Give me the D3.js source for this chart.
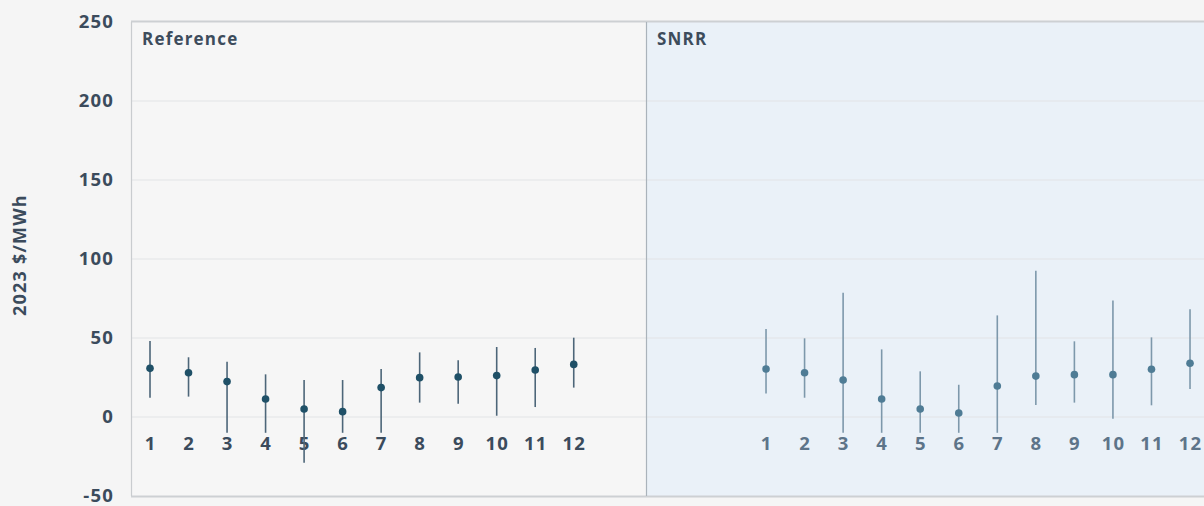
<!DOCTYPE html>
<html>
<head>
<meta charset="utf-8">
<script src="https://cdn.jsdelivr.net/npm/d3@7/dist/d3.min.js"></script>
<style>
  html, body { margin: 0; padding: 0; background: #f5f5f5; }
  svg { display: block; font-family: "Open Sans", "Noto Sans", sans-serif; }
</style>
</head>
<body>
<svg id="chart" width="1204" height="506"></svg>
<script>
// Monthly price ranges (2023 $/MWh): central value with low/high whiskers
const months = [1, 2, 3, 4, 5, 6, 7, 8, 9, 10, 11, 12];
const yTicks = [-50, 0, 50, 100, 150, 200, 250];

const referenceMid  = [30.8, 28.0, 22.4, 11.4, 5.1, 3.4, 18.6, 24.9, 25.3, 26.2, 29.7, 33.3];
const referenceLow  = [12.2, 12.9, -10, -10, -29, -10, -10, 9.1, 8.4, 0.8, 6.3, 18.6];
const referenceHigh = [48.1, 37.8, 35.0, 27.0, 23.4, 23.4, 30.4, 40.9, 35.9, 44.3, 43.7, 50.2];

const snrrMid  = [30.4, 28.0, 23.4, 11.4, 5.1, 2.5, 19.6, 25.9, 26.8, 26.8, 30.2, 34.0];
const snrrLow  = [14.8, 12.2, -10, -10, -10, -10, -10, 7.6, 9.1, -1.1, 7.4, 17.7];
const snrrHigh = [55.7, 49.8, 78.7, 42.8, 28.9, 20.4, 64.3, 92.6, 47.9, 73.8, 50.4, 68.2];

(function draw() {
  const svg = d3.select("#chart");
  const textColor = "#3b4b5c";
  const spacing = 1.2;

  const plotTop = 22, plotBottom = 496;
  const y = d3.scaleLinear().domain([-50, 250]).range([plotBottom, plotTop]);

  const panels = [
    { title: "Reference", x0: 131, x1: 646, bandRange: [130.75, 593], fill: "#f6f6f6",
      mid: referenceMid, low: referenceLow, high: referenceHigh,
      dot: "#1f5067", line: "#4d6679", label: "#3b4b5c" },
    { title: "SNRR", x0: 646, x1: 1210, bandRange: [746.75, 1209.3], fill: "#eaf1f8",
      mid: snrrMid, low: snrrLow, high: snrrHigh,
      dot: "#4f7c95", line: "#7d98ab", label: "#5d7489" }
  ];

  panels.forEach(p => {
    const g = svg.append("g");
    g.append("rect")
      .attr("x", p.x0).attr("y", plotTop)
      .attr("width", p.x1 - p.x0).attr("height", plotBottom - plotTop)
      .attr("fill", p.fill);

    // horizontal gridlines
    g.selectAll("line.grid")
      .data(yTicks.filter(t => t > -50 && t < 250))
      .join("line")
      .attr("class", "grid")
      .attr("x1", p.x0).attr("x2", p.x1)
      .attr("y1", d => y(d)).attr("y2", d => y(d))
      .attr("stroke", "#e2e4e6").attr("stroke-width", 1.2);

    g.append("text")
      .attr("x", p.x0 + 11).attr("y", 44.5)
      .attr("font-size", 17).attr("font-weight", 700)
      .attr("letter-spacing", spacing)
      .attr("fill", "#3d4c5c")
      .text(p.title);

    const x = d3.scaleBand().domain(months).range(p.bandRange);
    const cx = m => x(m) + x.bandwidth() / 2;

    // month labels sit behind the whiskers
    g.selectAll("text.month")
      .data(months)
      .join("text")
      .attr("class", "month")
      .attr("x", d => cx(d) + spacing / 2).attr("y", 450)
      .attr("text-anchor", "middle")
      .attr("font-size", 18.5).attr("font-weight", 700)
      .attr("letter-spacing", spacing)
      .attr("fill", p.label)
      .text(d => d);

    g.selectAll("line.whisker")
      .data(months)
      .join("line")
      .attr("class", "whisker")
      .attr("x1", d => cx(d)).attr("x2", d => cx(d))
      .attr("y1", (d, i) => y(p.low[i])).attr("y2", (d, i) => y(p.high[i]))
      .attr("stroke", p.line).attr("stroke-width", 1.6);

    g.selectAll("circle")
      .data(months)
      .join("circle")
      .attr("cx", d => cx(d)).attr("cy", (d, i) => y(p.mid[i]))
      .attr("r", 3.8)
      .attr("fill", p.dot);
  });

  // frame: top/bottom borders, left edge and panel divider
  svg.append("line").attr("x1", 131).attr("x2", 1204).attr("y1", plotTop - 0.5).attr("y2", plotTop - 0.5)
    .attr("stroke", "#cdd0d3").attr("stroke-width", 2);
  svg.append("line").attr("x1", 131).attr("x2", 1204).attr("y1", plotBottom + 0.5).attr("y2", plotBottom + 0.5)
    .attr("stroke", "#cdd0d3").attr("stroke-width", 2);
  svg.append("line").attr("x1", 131.5).attr("x2", 131.5).attr("y1", plotTop).attr("y2", plotBottom)
    .attr("stroke", "#c9cccf").attr("stroke-width", 1.2);
  svg.append("line").attr("x1", 646.5).attr("x2", 646.5).attr("y1", plotTop).attr("y2", plotBottom)
    .attr("stroke", "#aab3bb").attr("stroke-width", 1.2);

  // y axis tick labels (plain hyphen for negatives)
  const yAxis = d3.axisLeft(y).tickValues(yTicks).tickSize(0).tickPadding(0)
    .tickFormat(d => String(d));
  const ay = svg.append("g").attr("transform", "translate(114,0)").call(yAxis);
  ay.select(".domain").remove();
  ay.selectAll("text")
    .attr("font-family", "'Open Sans', 'Noto Sans', sans-serif")
    .attr("font-size", 18.5).attr("font-weight", 700)
    .attr("letter-spacing", spacing)
    .attr("fill", textColor);

  svg.append("text")
    .attr("transform", "translate(26,255) rotate(-90)")
    .attr("text-anchor", "middle")
    .attr("font-size", 18).attr("font-weight", 700)
    .attr("letter-spacing", spacing)
    .attr("fill", textColor)
    .text("2023 $/MWh");
})();
</script>
</body>
</html>
